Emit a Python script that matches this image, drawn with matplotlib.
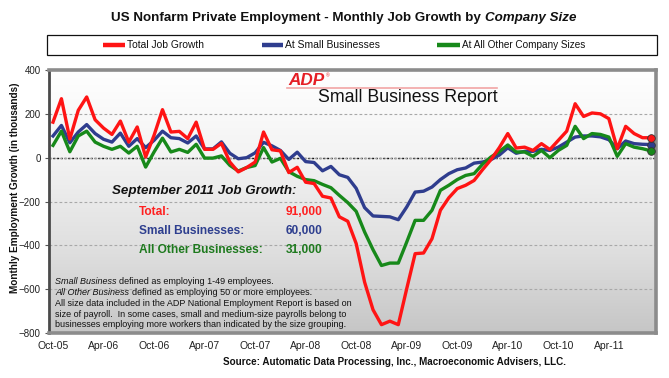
import numpy as np
import matplotlib
matplotlib.use("Agg")
import matplotlib.pyplot as plt
from matplotlib.colors import LinearSegmentedColormap
from matplotlib.lines import Line2D
from matplotlib.patches import Rectangle
from matplotlib import font_manager

# ---------------- data (thousands of jobs, monthly) ----------------
months = ["Oct-05", "Nov-05", "Dec-05", "Jan-06", "Feb-06", "Mar-06", "Apr-06", "May-06", "Jun-06",
          "Jul-06", "Aug-06", "Sep-06", "Oct-06", "Nov-06", "Dec-06", "Jan-07", "Feb-07", "Mar-07",
          "Apr-07", "May-07", "Jun-07", "Jul-07", "Aug-07", "Sep-07", "Oct-07", "Nov-07", "Dec-07",
          "Jan-08", "Feb-08", "Mar-08", "Apr-08", "May-08", "Jun-08", "Jul-08", "Aug-08", "Sep-08",
          "Oct-08", "Nov-08", "Dec-08", "Jan-09", "Feb-09", "Mar-09", "Apr-09", "May-09", "Jun-09",
          "Jul-09", "Aug-09", "Sep-09", "Oct-09", "Nov-09", "Dec-09", "Jan-10", "Feb-10", "Mar-10",
          "Apr-10", "May-10", "Jun-10", "Jul-10", "Aug-10", "Sep-10", "Oct-10", "Nov-10", "Dec-10",
          "Jan-11", "Feb-11", "Mar-11", "Apr-11", "May-11", "Jun-11", "Jul-11", "Aug-11", "Sep-11"]

total = [162, 269, 85, 216, 277, 173, 135, 106, 167, 71, 140, 3,
         102, 219, 117, 120, 87, 162, 38, 38, 65, -20, -65, -45,
         -20, 117, 36, 31, -68, -44, -112, -118, -176, -184, -270, -290,
         -392, -568, -694, -762, -746, -762, -598, -438, -435, -370, -240, -183,
         -141, -126, -104, -55, -9, 46, 110, 44, 48, 33, 64, 37,
         79, 121, 246, 188, 204, 200, 178, 41, 143, 110, 91, 91]

small = [99, 147, 68, 117, 151, 110, 84, 71, 112, 52, 87, 46,
         79, 121, 91, 87, 67, 99, 40, 40, 72, 20, -5, 0,
         22, 70, 54, 33, -8, 25, -18, -22, -60, -40, -78, -90,
         -140, -228, -266, -268, -270, -283, -225, -157, -153, -134, -100, -73,
         -55, -47, -25, -20, -9, 12, 45, 20, 29, 29, 38, 33,
         48, 71, 94, 99, 99, 95, 82, 41, 76, 64, 61, 60]

other = [56, 121, 27, 99, 121, 71, 52, 38, 52, 21, 52, -43,
         26, 89, 26, 38, 24, 61, -2, -2, 8, -35, -61, -45,
         -36, 46, -20, -3, -64, -85, -100, -105, -122, -137, -172, -205,
         -245, -339, -420, -492, -481, -481, -385, -286, -286, -240, -149, -126,
         -100, -81, -73, -30, 3, 28, 58, 26, 26, 6, 33, 0,
         33, 56, 143, 87, 110, 106, 94, 6, 64, 48, 41, 31]

tick_labels = ["Oct-05", "Apr-06", "Oct-06", "Apr-07", "Oct-07", "Apr-08",
               "Oct-08", "Apr-09", "Oct-09", "Apr-10", "Oct-10", "Apr-11"]
y_ticks = [-800, -600, -400, -200, 0, 200, 400]

series_names = ["Total Job Growth", "At Small Businesses", "At All Other Company Sizes"]
sept_labels = ["Total:", "Small Businesses:", "All Other Businesses:"]
sept_values = ["91,000", "60,000", "31,000"]

RED = "#ff1414"
BLUE = "#2f3d8e"
GREEN = "#17891a"
TXT_RED = "#ff2020"
TXT_BLUE = "#2e3f8f"
TXT_GREEN = "#1e7a1e"

# ---------------- fonts ----------------
names = {f.name for f in font_manager.fontManager.ttflist}
NARROW = ["Liberation Sans Narrow", "Liberation Sans", "DejaVu Sans"] if "Liberation Sans Narrow" in names \
    else ["Liberation Sans", "DejaVu Sans"]
SANS = ["Liberation Sans", "DejaVu Sans"]
plt.rcParams["font.family"] = SANS

W, H = 669, 378
fig = plt.figure(figsize=(W / 100, H / 100), dpi=100)
fig.patch.set_facecolor("white")
renderer = fig.canvas.get_renderer()


def fx(x):
    return x / W


def fy(y):
    return 1 - y / H


def runs(x, y, parts, ha="left", size=8, width=None, gap_char=False, **common):
    """Place text runs side by side (pixel coords, y = vertical center)."""
    texts = [fig.text(0, fy(y), s, fontsize=size, va="center", ha="left", **{**common, **kw})
             for s, kw in parts]

    def widths():
        return [t.get_window_extent(renderer).width for t in texts]

    # space width for gaps between runs
    def space_w():
        a = fig.text(0, 0, "a a", fontsize=texts[0].get_fontsize(), **common)
        b = fig.text(0, 0, "aa", fontsize=texts[0].get_fontsize(), **common)
        w = a.get_window_extent(renderer).width - b.get_window_extent(renderer).width
        a.remove(); b.remove()
        return w

    n_gaps = len(texts) - 1
    if width is not None:
        for _ in range(3):
            tw = sum(widths()) + n_gaps * space_w()
            f = width / tw
            for t in texts:
                t.set_fontsize(t.get_fontsize() * f)
    ws = widths()
    sw = space_w()
    tw = sum(ws) + n_gaps * sw
    start = x - tw / 2 if ha == "center" else (x - tw if ha == "right" else x)
    cur = start
    for t, w in zip(texts, ws):
        t.set_x(fx(cur))
        cur += w + sw
    return texts


def fit(x, y, s, width, ha="left", rotation=0, **kw):
    t = fig.text(fx(x), fy(y), s, fontsize=8, ha=ha, va="center", **kw)
    for _ in range(3):
        w = t.get_window_extent(renderer).width
        t.set_fontsize(t.get_fontsize() * width / w)
    t.set_rotation(rotation)
    return t


# ---------------- axes ----------------
L, R, T, B = 49, 656, 70, 333
ax = fig.add_axes([fx(L), fy(B), (R - L) / W, (B - T) / H])
x = np.arange(len(total))
xlim = (-0.475, 71.6)
ax.set_xlim(*xlim)
ax.set_ylim(-800, 400)

cmap = LinearSegmentedColormap.from_list(
    "bg", [(0, "#ffffff"), (0.33, "#f3f3f3"), (0.7, "#dedede"), (1.0, "#c6c6c6")])
ax.imshow(np.linspace(0, 1, 256).reshape(-1, 1), cmap=cmap, aspect="auto",
          extent=[xlim[0], xlim[1], -800, 400], origin="upper", zorder=0)

ax.set_yticks(y_ticks)
ax.grid(axis="y", color="#a8a8a8", linestyle=(0, (2.5, 2)), linewidth=0.8, zorder=1)
ax.axhline(0, color="#111111", linestyle=(0, (1.5, 1.2)), linewidth=1.0, zorder=1.5)

ax.plot(x, small, color=BLUE, lw=2.4, zorder=3, solid_joinstyle="round")
ax.plot(x, other, color=GREEN, lw=2.4, zorder=4, solid_joinstyle="round")
ax.plot(x, total, color=RED, lw=2.4, zorder=5, solid_joinstyle="round")
for s, c, z in [(small, BLUE, 6), (other, GREEN, 7), (total, RED, 8)]:
    ax.plot(x[-1:], s[-1:], "o", ms=5.5, mfc=c, mec="#333333", mew=0.6, zorder=z)

ax.set_xticks(x[::6])
ax.set_xticklabels(tick_labels)
ax.tick_params(axis="x", length=0, pad=6, labelsize=7.5, labelcolor="#222222")
ax.tick_params(axis="y", direction="out", length=3, width=0.8, color="#555555",
               pad=3, labelsize=7, labelcolor="#222222")

for side in ["top", "right", "bottom"]:
    ax.spines[side].set_color("#8c8c8c")
    ax.spines[side].set_linewidth(2.6)
ax.spines["left"].set_color("#4a4a4a")
ax.spines["left"].set_linewidth(2.0)

# ---------------- title ----------------
runs(344, 18, [("US Nonfarm Private Employment - Monthly Job Growth by", {}),
               ("Company Size", {"style": "italic"})],
     ha="center", size=10.5, width=462, weight="bold", family=NARROW, color="#111111")

# ---------------- legend box ----------------
fig.patches.append(Rectangle((fx(47), fy(55)), (657 - 47) / W, 20 / H, transform=fig.transFigure,
                             facecolor="white", edgecolor="#111111", linewidth=0.9))
leg_items = [(103, 125, RED, series_names[0], 78),
             (262, 283, BLUE, series_names[1], 95),
             (437, 460, GREEN, series_names[2], 125)]
for x0, x1, c, name, tw in leg_items:
    fig.lines.append(Line2D([fx(x0), fx(x1)], [fy(45), fy(45)], transform=fig.transFigure,
                            color=c, lw=3.2, solid_capstyle="butt"))
    fit(x1 + 2, 45.5, name, tw, family=NARROW, color="#111111")

# ---------------- ADP logo ----------------
fit(288, 80.5, "ADP", 36, style="italic", weight="bold", color="#e51e25")
fig.text(fx(326), fy(76), "®", fontsize=3.5, color="#e51e25", va="center")
fig.lines.append(Line2D([fx(287), fx(497)], [fy(88), fy(88)], transform=fig.transFigure,
                        color="#f2a5a5", lw=1.2))
fit(318, 97.5, "Small Business Report", 178, color="#111111")

# ---------------- September 2011 box ----------------
fit(112, 191, "September 2011 Job Growth:", 184, style="italic", weight="bold", color="#111111")
ref = fit(139, 250, sept_labels[2], 124, weight="bold", color=TXT_GREEN)
fs = ref.get_fontsize()
for lab, val, yy, col in [(sept_labels[0], sept_values[0], 212, TXT_RED),
                          (sept_labels[1], sept_values[1], 231, TXT_BLUE)]:
    fig.text(fx(139), fy(yy), lab, fontsize=fs, weight="bold", color=col, va="center")
    fig.text(fx(323), fy(yy), val, fontsize=fs, weight="bold", color=col, va="center", ha="right")
fig.text(fx(323), fy(250), sept_values[2], fontsize=fs, weight="bold", color=TXT_GREEN,
         va="center", ha="right")

# ---------------- footnote ----------------
ft = fit(55, 303.3, "All size data included in the ADP National Employment Report is based on",
         295, color="#111111")
ffs = ft.get_fontsize()
runs(55, 281.7, [("Small Business", {"style": "italic"}),
                 ("defined as employing 1-49 employees.", {})], size=ffs, color="#111111")
runs(55, 292.2, [("All Other Business", {"style": "italic"}),
                 ("defined as employing 50 or more employees.", {})], size=ffs, color="#111111")
fig.text(fx(55), fy(314.2), "size of payroll.  In some cases, small and medium-size payrolls belong to",
         fontsize=ffs, color="#111111", va="center")
fig.text(fx(55), fy(324.5), "businesses employing more workers than indicated by the size grouping.",
         fontsize=ffs, color="#111111", va="center")

# ---------------- axis label & source ----------------
fit(15, 188, "Monthly Employment Growth (in thousands)", 210, ha="center", rotation=90,
    weight="bold", color="#111111")
fit(223, 362, "Source: Automatic Data Processing, Inc., Macroeconomic Advisers, LLC.", 339,
    weight="bold", color="#111111")

fig.savefig("out.png", dpi=100)
